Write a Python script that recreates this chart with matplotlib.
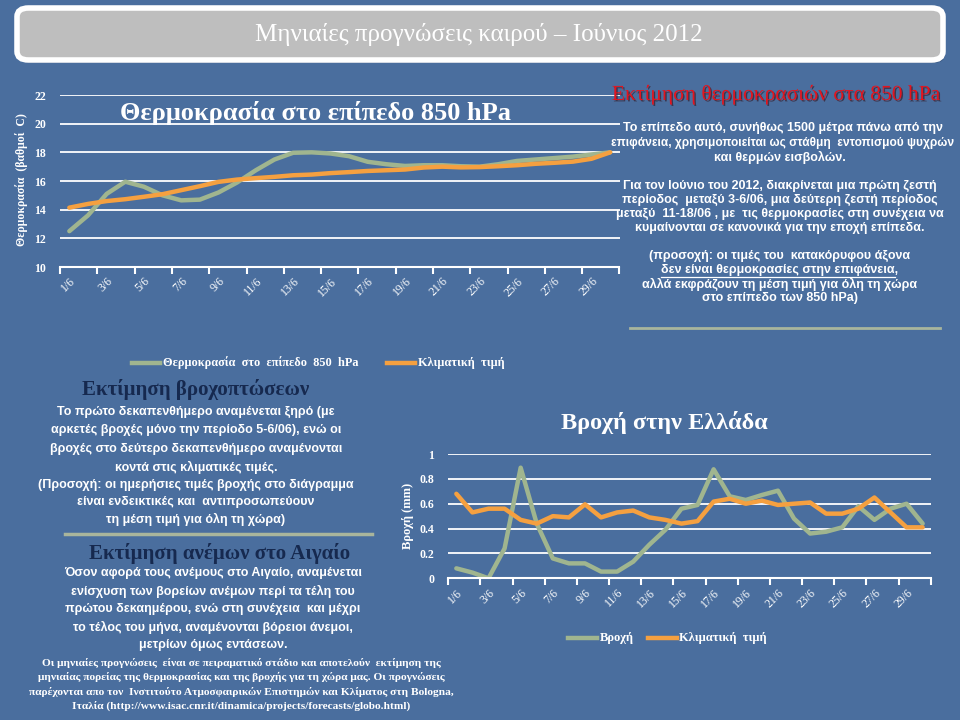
import matplotlib
matplotlib.use("Agg")
import matplotlib.pyplot as plt
from matplotlib.patches import FancyBboxPatch
from matplotlib.lines import Line2D
import matplotlib.patheffects as pe

# ---------------- data ----------------
days = list(range(1, 31))
day_labels = [f"{d}/6" for d in days]

temp_850 = [12.5, 13.6, 15.1, 15.95, 15.6, 15.0, 14.65, 14.7, 15.2, 15.9,
            16.75, 17.5, 17.97, 18.0, 17.92, 17.73, 17.34, 17.17, 17.05, 17.1,
            17.1, 17.03, 17.0, 17.17, 17.4, 17.5, 17.6, 17.7, 17.85, 18.0]
temp_clim = [14.14, 14.4, 14.6, 14.73, 14.9, 15.08, 15.36, 15.64, 15.94, 16.1,
             16.2, 16.29, 16.4, 16.45, 16.55, 16.62, 16.7, 16.75, 16.8, 16.94,
             17.0, 16.95, 16.97, 17.03, 17.1, 17.2, 17.27, 17.35, 17.55, 18.0]

rain = [0.08, 0.046, 0.0, 0.24, 0.89, 0.44, 0.16, 0.12, 0.12, 0.054,
        0.054, 0.134, 0.27, 0.39, 0.56, 0.59, 0.877, 0.66, 0.63, 0.67,
        0.705, 0.48, 0.36, 0.375, 0.41, 0.58, 0.47, 0.56, 0.60, 0.44]
rain_clim = [0.68, 0.53, 0.56, 0.56, 0.47, 0.44, 0.50, 0.49, 0.595, 0.49,
             0.53, 0.545, 0.49, 0.47, 0.44, 0.46, 0.617, 0.64, 0.60, 0.625,
             0.59, 0.60, 0.61, 0.52, 0.52, 0.56, 0.65, 0.53, 0.41, 0.41]

temp_yticks = [10, 12, 14, 16, 18, 20, 22]
rain_yticks = [0, 0.2, 0.4, 0.6, 0.8, 1]
rain_yticklabels = ["0", "0.2", "0.4", "0.6", "0.8", "1"]

# ---------------- style ----------------
BG = "#4A6E9E"
GREEN = "#A0B58F"
ORANGE = "#F5A040"
NAVY = "#16294F"
RED = "#E3141E"
SEP = "#A9B59C"
SERIF = ["Liberation Serif", "DejaVu Serif"]
SANS = ["Liberation Sans", "DejaVu Sans"]

W, H = 960, 720
fig = plt.figure(figsize=(9.6, 7.2), dpi=100, facecolor=BG)


def fx(x):
    return x / W


def fy(y):
    return 1 - y / H


def T(x, y, s, **kw):
    kw.setdefault("color", "white")
    kw.setdefault("ha", "center")
    kw.setdefault("va", "center")
    return fig.text(fx(x), fy(y), s, **kw)


def hline(x0, x1, y, color, lw):
    fig.add_artist(Line2D([fx(x0), fx(x1)], [fy(y), fy(y)], color=color, lw=lw,
                          transform=fig.transFigure))


# ---------------- title box ----------------
shadow = FancyBboxPatch((fx(19), fy(63)), fx(926), 52 / H,
                        boxstyle="round,pad=0,rounding_size=0.012",
                        transform=fig.transFigure, facecolor="#2E4A72",
                        edgecolor="none", alpha=0.6, zorder=0.5)
fig.add_artist(shadow)
box = FancyBboxPatch((fx(17), fy(60)), fx(926), 52 / H,
                     boxstyle="round,pad=0,rounding_size=0.012",
                     transform=fig.transFigure, facecolor="#BEBEBE",
                     edgecolor="white", lw=4, zorder=1)
fig.add_artist(box)
T(479, 34, "Μηνιαίες προγνώσεις καιρού – Ιούνιος 2012", fontsize=18,
  family=SERIF)


def style_axes(ax, xlabels):
    ax.set_facecolor("none")
    for s in ("left", "right", "top"):
        ax.spines[s].set_visible(False)
    ax.spines["bottom"].set_color("white")
    ax.spines["bottom"].set_linewidth(1.5)
    ax.set_xlim(0.5, 30.5)
    ax.set_xticks([0.5 + 2 * i for i in range(16)])
    ax.set_xticklabels([])
    ax.tick_params(axis="x", which="major", length=5, width=1.5, color="white",
                   direction="out")
    ax.set_xticks(days[::2], minor=True)
    ax.set_xticklabels(xlabels[::2], minor=True, rotation=45, ha="right",
                       rotation_mode="anchor", color="white", fontsize=8.5,
                       family=SERIF)
    ax.tick_params(axis="x", which="minor", length=0, pad=6)
    ax.tick_params(axis="y", length=0, pad=10, labelcolor="white")
    ax.grid(axis="y", color="white", lw=1.3)
    ax.set_axisbelow(True)


# ---------------- temperature chart ----------------
ax1 = fig.add_axes([fx(60), fy(267), fx(619.5 - 60), (267 - 95) / H])
style_axes(ax1, day_labels)
ax1.set_ylim(10, 22)
ax1.set_yticks(temp_yticks)
ax1.set_yticklabels([str(v) for v in temp_yticks], fontsize=8.5,
                    fontweight="bold", family=SERIF)
ax1.plot(days, temp_850, color=GREEN, lw=3.2, solid_capstyle="round")
ax1.plot(days, temp_clim, color=ORANGE, lw=3.2, solid_capstyle="round")
T(22, 180, "Θερμοκρασία  (βαθμοί  C)", rotation=90, fontsize=8.5,
  fontweight="bold", family=SERIF)
T(315, 113, "Θερμοκρασία στο επίπεδο 850 hPa", fontsize=19,
  fontweight="bold", family=SERIF)

# legend
hline(132, 160, 363, GREEN, 3.2)
T(163, 363, "Θερμοκρασία  στο  επίπεδο  850  hPa", ha="left", fontsize=8.8,
  fontweight="bold", family=SERIF)
hline(387, 415, 363, ORANGE, 3.2)
T(418, 363, "Κλιματική  τιμή", ha="left", fontsize=8.8, fontweight="bold",
  family=SERIF)

# ---------------- right text block ----------------
T(776, 95, "Εκτίμηση θερμοκρασιών στα 850 hPa", color=RED, fontsize=15.5,
  family=SERIF,
  path_effects=[pe.withSimplePatchShadow(offset=(1, -1), shadow_rgbFace="#300000",
                                          alpha=0.5)])
right_lines = [
    (128, "Το επίπεδο αυτό, συνήθως 1500 μέτρα πάνω από την"),
    (143, "επιφάνεια, χρησιμοποιείται ως στάθμη  εντοπισμού ψυχρών"),
    (157, "και θερμών εισβολών."),
    (186, "Για τον Ιούνιο του 2012, διακρίνεται μια πρώτη ζεστή"),
    (200, "περίοδος  μεταξύ 3-6/06, μια δεύτερη ζεστή περίοδος"),
    (214, "μεταξύ  11-18/06 , με  τις θερμοκρασίες στη συνέχεια να"),
    (228, "κυμαίνονται σε κανονικά για την εποχή επίπεδα."),
    (256, "(προσοχή: οι τιμές του  κατακόρυφου άξονα"),
    (270, "δεν είναι θερμοκρασίες στην επιφάνεια,"),
    (284, "αλλά εκφράζουν τη μέση τιμή για όλη τη χώρα"),
    (298, "στο επίπεδο των 850 hPa)"),
]
right_x = [783, 783, 780, 780, 780, 780, 780, 780, 780, 780, 780]
right_fs = [9, 8.6, 9, 9, 9, 9, 9, 9, 9, 9, 9]
txts = []
for (y, s), x, f in zip(right_lines, right_x, right_fs):
    txts.append(T(x, y, s, fontsize=f, fontweight="bold", family=SANS))
hline(630, 940, 328, SEP, 2)

# underline for the highlighted line
fig.canvas.draw()
r = fig.canvas.get_renderer()
bb = txts[8].get_window_extent(renderer=r)
fig.add_artist(Line2D([bb.x0 / W, (bb.x1 - 4) / W], [fy(277), fy(277)],
                      color="white", lw=0.9, transform=fig.transFigure))

# ---------------- rain text ----------------
T(196, 390, "Εκτίμηση βροχοπτώσεων", color=NAVY, fontsize=15, fontweight="bold",
  family=SERIF)
rain_lines = [
    (412, "Το πρώτο δεκαπενθήμερο αναμένεται ξηρό (με"),
    (430, "αρκετές βροχές μόνο την περίοδο 5-6/06), ενώ οι"),
    (449, "βροχές στο δεύτερο δεκαπενθήμερο αναμένονται"),
    (467, "κοντά στις κλιματικές τιμές."),
    (485, "(Προσοχή: οι ημερήσιες τιμές βροχής στο διάγραμμα"),
    (502, "είναι ενδεικτικές και  αντιπροσωπεύουν"),
    (519, "τη μέση τιμή για όλη τη χώρα)"),
]
for y, s in rain_lines:
    T(196, y, s, fontsize=9, fontweight="bold", family=SANS)
hline(65, 372, 534, SEP, 2.5)

T(220, 553, "Εκτίμηση ανέμων στο Αιγαίο", color=NAVY, fontsize=15,
  fontweight="bold", family=SERIF)
wind_lines = [
    (573, "Όσον αφορά τους ανέμους στο Αιγαίο, αναμένεται"),
    (591, "ενίσχυση των βορείων ανέμων περί τα τέλη του"),
    (609, "πρώτου δεκαημέρου, ενώ στη συνέχεια  και μέχρι"),
    (627, "το τέλος του μήνα, αναμένονται βόρειοι άνεμοι,"),
    (645, "μετρίων όμως εντάσεων."),
]
for y, s in wind_lines:
    T(213, y, s, fontsize=9, fontweight="bold", family=SANS)

foot_lines = [
    (663, "Οι μηνιαίες προγνώσεις  είναι σε πειραματικό στάδιο και αποτελούν  εκτίμηση της"),
    (677, "μηνιαίας πορείας της θερμοκρασίας και της βροχής για τη χώρα μας. Οι προγνώσεις"),
    (692, "παρέχονται απο τον  Ινστιτούτο Ατμοσφαιρικών Επιστημών και Κλίματος στη Bologna,"),
    (706, "Ιταλία (http://www.isac.cnr.it/dinamica/projects/forecasts/globo.html)"),
]
for y, s in foot_lines:
    T(241, y, s, fontsize=8.2, fontweight="bold", family=SERIF)

# ---------------- rain chart ----------------
T(664, 422, "Βροχή στην Ελλάδα", fontsize=17.5, fontweight="bold", family=SERIF)
ax2 = fig.add_axes([fx(448.3), fy(578.3), fx(930.7 - 448.3), (578.3 - 454) / H])
style_axes(ax2, day_labels)
ax2.set_ylim(0, 1)
ax2.set_yticks(rain_yticks)
ax2.set_yticklabels(rain_yticklabels, fontsize=8.5, fontweight="bold",
                    family=SERIF)
ax2.plot(days, rain, color=GREEN, lw=3.2, solid_capstyle="round")
ax2.plot(days, rain_clim, color=ORANGE, lw=3.2, solid_capstyle="round")
T(408, 516, "Βροχή (mm)", rotation=90, fontsize=9, fontweight="bold",
  family=SERIF)

hline(568, 597, 638, GREEN, 3.2)
T(600, 638, "Βροχή", ha="left", fontsize=9, fontweight="bold", family=SERIF)
hline(648, 677, 638, ORANGE, 3.2)
T(679, 638, "Κλιματική  τιμή", ha="left", fontsize=9, fontweight="bold",
  family=SERIF)

fig.savefig("out.png", dpi=100, facecolor=BG)
